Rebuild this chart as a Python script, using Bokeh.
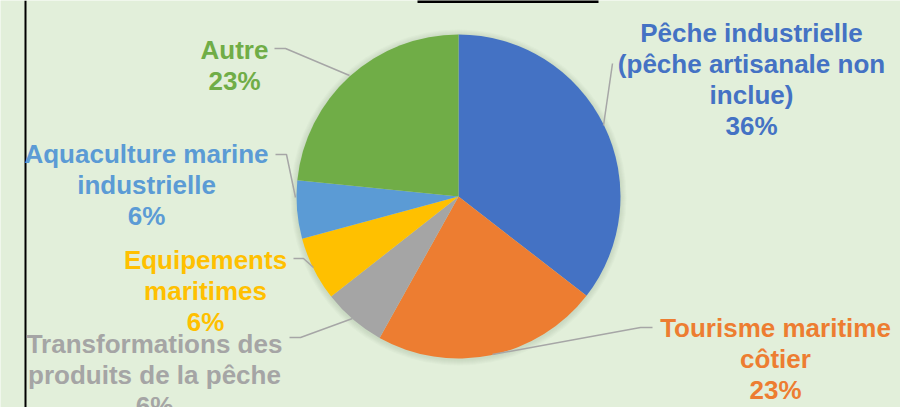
import math
from bokeh.plotting import figure
from bokeh.models import Range1d
from bokeh.core.properties import value
from bokeh.embed import file_html
from bokeh.resources import INLINE

# ---- data ----
categories = [
    "Pêche industrielle (pêche artisanale non inclue)",
    "Tourisme maritime côtier",
    "Transformations des produits de la pêche",
    "Equipements maritimes",
    "Aquaculture marine industrielle",
    "Autre",
]
shares = [35.5, 22.6, 6.3, 6.4, 5.8, 23.4]
label_lines = [
    ["Pêche industrielle", "(pêche artisanale non", "inclue)"],
    ["Tourisme maritime", "côtier"],
    ["Transformations des", "produits de la pêche"],
    ["Equipements", "maritimes"],
    ["Aquaculture marine", "industrielle"],
    ["Autre"],
]

# ---- styling / layout ----
colors = ["#4472C4", "#ED7D31", "#A5A5A5", "#FFC000", "#5B9BD5", "#70AD47"]
W, H = 900, 407
BG = "#E2EFDA"
CX, CY, R = 458, 196, 162  # page pixel coords (y downward)
label_anchor = [(751, 32), (775, 327), (154, 343), (205, 259), (146, 153), (234, 49)]
leaders = [
    [(612, 63), (603, 125)],
    [(652, 327), (640, 327), (492, 354)],
    [(289, 337), (300, 337), (352, 318)],
    [(293, 258), (303, 258), (313, 267)],
    [(275, 154), (286, 154), (295, 197)],
    [(274, 48), (285, 48), (349, 75)],
]
LINE_H = 31
FONT = "Liberation Sans"
FSIZE = "26px"


def fy(y):
    return H - y


p = figure(width=W, height=H, x_range=Range1d(0, W), y_range=Range1d(0, H),
           output_backend="svg", toolbar_location=None, min_border=0)
p.axis.visible = False
p.grid.visible = False
p.outline_line_color = None
p.background_fill_color = BG
p.border_fill_color = BG

# left vertical rule and top bar
p.segment(x0=[25], y0=[0], x1=[25], y1=[H], line_color="black", line_width=2)
p.segment(x0=[417], y0=[fy(1)], x1=[598], y1=[fy(1)], line_color="black", line_width=3)

# soft shadow
for k in range(1, 7):
    p.circle(x=[CX], y=[fy(CY + 1)], radius=R + k, fill_color="#7f8f70",
             fill_alpha=0.035, line_color=None)

# pie
total = sum(shares)
starts, ends = [], []
cum = 0.0
for s in shares:
    starts.append(math.pi / 2 - 2 * math.pi * cum / total)
    cum += s
    ends.append(math.pi / 2 - 2 * math.pi * cum / total)
p.wedge(x=CX, y=fy(CY), radius=R, start_angle=starts, end_angle=ends,
        direction="clock", fill_color=colors, line_color=None)

# leader lines
for pts in leaders:
    p.line([a for a, b in pts], [fy(b) for a, b in pts], line_color="#A6A6A6", line_width=1.5)

# labels
for i, lines in enumerate(label_lines):
    all_lines = lines + [f"{round(shares[i] / total * 100)}%"]
    ax, ay = label_anchor[i]
    xs = [ax] * len(all_lines)
    ys = [fy(ay + j * LINE_H) for j in range(len(all_lines))]
    p.text(x=xs, y=ys, text=all_lines, text_align="center", text_baseline="alphabetic",
           text_font=value(FONT), text_font_size=FSIZE, text_font_style="bold",
           text_color=colors[i])

open("out.html", "w").write(file_html(p, INLINE))
